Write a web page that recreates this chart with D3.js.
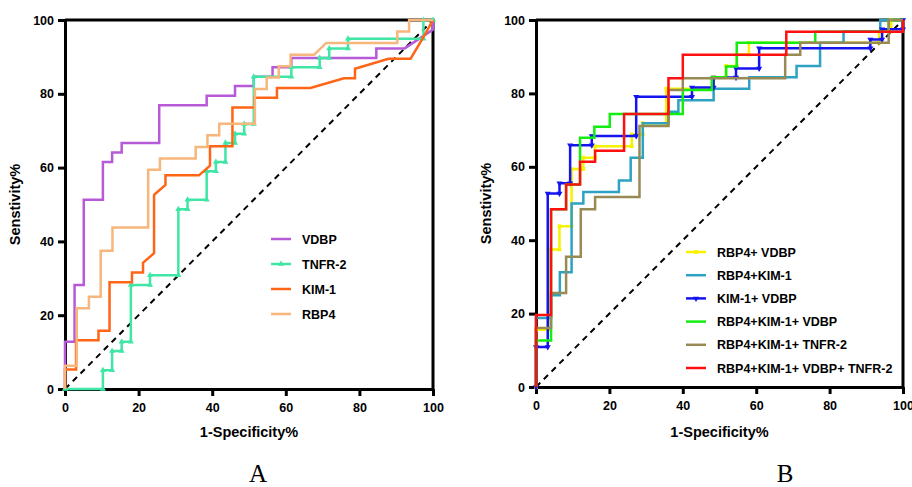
<!DOCTYPE html>
<html>
<head>
<meta charset="utf-8">
<script src="https://cdn.jsdelivr.net/npm/d3@7"></script>
<style>
  body { margin: 0; background: #fff; }
  svg { display: block; }
  text { font-family: "Liberation Sans", Arial, sans-serif; }
</style>
</head>
<body>
<script>
var width = 912,
    height = 487;

var ticks = [0, 20, 40, 60, 80, 100];

// panel A: single markers, [1-specificity %, sensitivity %]
var vdbp = [[0,0],[0,12.8],[2.6,12.8],[2.6,28.2],[5.1,28.2],[5.1,51.3],[10.3,51.3],[10.3,61.5],[12.8,61.5],[12.8,64.1],[15.4,64.1],[15.4,66.7],[25.6,66.7],[25.6,76.9],[38.5,76.9],[38.5,79.5],[46.2,79.5],[46.2,82.1],[51.3,82.1],[51.3,84.6],[56.4,84.6],[56.4,87.2],[61.5,87.2],[61.5,89.7],[84.6,89.7],[84.6,92.3],[92.3,92.3],[100,97.4],[100,100]];
var tnfr2 = [[0,0],[10.3,0],[10.3,5.1],[12.8,5.1],[12.8,10.3],[15.4,10.3],[15.4,12.8],[17.9,12.8],[17.9,28.2],[23.1,28.2],[23.1,30.8],[30.8,30.8],[30.8,48.7],[33.3,48.7],[33.3,51.3],[38.5,51.3],[38.5,59],[41,59],[41,61.5],[43.6,61.5],[43.6,66.7],[46.2,66.7],[46.2,69.2],[48.7,69.2],[48.7,71.8],[51.3,71.8],[51.3,84.6],[61.5,84.6],[61.5,87.2],[69.2,87.2],[69.2,89.7],[71.8,89.7],[71.8,92.3],[76.9,92.3],[76.9,94.9],[97.4,94.9],[97.4,100],[100,100]];
var kim1 = [[0,0],[0,5.3],[3,5.3],[3,13.2],[9.1,13.2],[9.1,15.8],[12.1,15.8],[12.1,28.9],[18.2,28.9],[18.2,31.6],[21.2,31.6],[21.2,34.2],[24.2,36.8],[24.2,52.6],[27.3,55.3],[27.3,57.9],[36.4,57.9],[39.4,60.5],[39.4,65.8],[45.5,65.8],[45.5,76.3],[51.5,76.3],[51.5,78.9],[57.6,78.9],[57.6,81.6],[66.7,81.6],[75.8,84.2],[78.8,84.2],[78.8,86.8],[87.9,89.5],[93.9,89.5],[97,94.7],[100,100]];
var rbp4 = [[0,0],[0,6.3],[3.2,6.3],[3.2,21.9],[6.5,21.9],[6.5,25],[9.7,25],[9.7,37.5],[12.9,37.5],[12.9,43.8],[22.6,43.8],[22.6,59.4],[25.8,59.4],[25.8,62.5],[35.5,62.5],[35.5,65.6],[38.7,65.6],[38.7,68.8],[41.9,68.8],[41.9,71.9],[51.6,71.9],[51.6,81.3],[54.8,81.3],[54.8,84.4],[58.1,84.4],[58.1,87.5],[61.3,87.5],[61.3,90.6],[67.7,90.6],[71,93.8],[90.3,93.8],[90.3,96.9],[93.5,96.9],[93.5,100],[100,100]];

// panel B: combinations
var rbp4Vdbp = [[0,0],[0,15.6],[3.4,15.6],[3.4,37.5],[6.4,37.5],[6.4,43.8],[9.7,43.8],[9.7,59.4],[12.9,59.4],[12.9,62.5],[16.1,62.5],[16.1,65.6],[26.1,65.6],[26.1,68.8],[29.1,68.8],[29.1,71.9],[35.5,71.9],[35.5,81.3],[48.4,81.3],[48.4,84.4],[51.8,84.4],[51.8,87.5],[54.7,87.5],[54.7,90.6],[58,90.6],[58,93.8],[93.5,93.8],[93.5,96.9],[96.8,96.9],[96.8,100],[100,100]];
var rbp4Kim1 = [[0,0],[0,18.8],[4.1,18.8],[4.1,25],[6.5,25],[6.5,31.3],[9.7,31.3],[9.7,50],[12.9,50],[12.9,53.1],[22.6,53.1],[22.6,56.3],[25.8,56.3],[25.8,62.5],[29.1,62.5],[29.1,71.9],[36.1,71.9],[36.1,75],[38.8,75],[38.8,78.1],[48.4,78.1],[48.4,81.3],[58.1,81.3],[58.1,84.4],[71,84.4],[71,87.5],[77.4,87.5],[77.4,93.8],[83.8,93.8],[83.8,96.9],[93.8,96.9],[93.8,100],[100,100]];
var kim1Vdbp = [[0,0],[0,10.9],[3.2,10.9],[3.2,52.7],[6.4,52.7],[6.4,55.5],[9.3,55.5],[9.3,65.9],[15.2,65.9],[15.2,68.4],[27.3,68.4],[27.3,79.1],[42.5,79.1],[42.5,81.6],[48.4,81.6],[48.4,84.3],[54.5,84.3],[54.5,86.8],[60.8,86.8],[60.8,92.3],[91.1,92.3],[91.1,94.7],[94.3,94.7],[94.3,97.5],[100,97.5],[100,100]];
var rbp4Kim1Vdbp = [[0,0],[0,12.7],[4.1,12.7],[4.1,48.4],[8.2,48.4],[8.2,55.2],[12,55.2],[12,67.9],[15.9,67.9],[15.9,70.9],[20.1,70.9],[20.1,74.4],[40,74.4],[40,80.9],[47.9,80.9],[47.9,84.4],[51.8,84.4],[51.8,87.3],[54.7,87.3],[54.7,93.8],[76.1,93.8],[76.1,96.8],[96.1,96.8],[96.1,100],[100,100]];
var rbp4Kim1Tnfr2 = [[0,0],[0,16.1],[4.1,16.1],[4.1,25.6],[8.2,25.6],[8.2,35.5],[12.2,35.5],[12.2,48.4],[16.1,48.4],[16.1,51.8],[28.2,51.8],[28.2,71.1],[36.1,71.1],[36.1,80.9],[40,80.9],[40,84.1],[67.9,84.1],[67.9,90.5],[72,90.5],[72,93.8],[96.1,93.8],[96.1,100],[100,100]];
var allFour = [[0,0],[0,19.6],[4.1,19.6],[4.1,48.4],[8.2,48.4],[8.2,55.2],[12,55.2],[12,61.4],[16.1,61.4],[16.1,64.4],[24,64.4],[24,74.4],[36.1,74.4],[36.1,84.1],[40,84.1],[40,90.5],[68.2,90.5],[68.2,96.8],[100,96.8],[100,100]];

var seriesA = [
  {name: "VDBP",   data: vdbp,  color: "#b75ad8", marker: null},
  {name: "TNFR-2", data: tnfr2, color: "#3fe6a6", marker: "tri"},
  {name: "KIM-1",  data: kim1,  color: "#ff6516", marker: null},
  {name: "RBP4",   data: rbp4,  color: "#f6b67c", marker: null}
];
var seriesB = [
  {name: "RBP4+ VDBP",               data: rbp4Vdbp,      color: "#f6f200", marker: "sq"},
  {name: "RBP4+KIM-1",               data: rbp4Kim1,      color: "#2da2c2", marker: null},
  {name: "KIM-1+ VDBP",              data: kim1Vdbp,      color: "#1414f0", marker: "down"},
  {name: "RBP4+KIM-1+ VDBP",         data: rbp4Kim1Vdbp,  color: "#12ee12", marker: null},
  {name: "RBP4+KIM-1+ TNFR-2",       data: rbp4Kim1Tnfr2, color: "#978a55", marker: null},
  {name: "RBP4+KIM-1+ VDBP+ TNFR-2", data: allFour,       color: "#ff1010", marker: null}
];

var svg = d3.select("body").append("svg")
    .attr("width", width)
    .attr("height", height);

function marker(sel, type, color) {
  if (!type) return;
  var sym = type == "sq" ? d3.symbolSquare : d3.symbolTriangle;
  sel.append("path")
    .attr("d", d3.symbol().type(sym).size(type == "sq" ? 14 : 16))
    .attr("transform", type == "down" ? "rotate(180)" : null)
    .attr("fill", color);
}

function panel(opt) {
  var x = d3.scaleLinear().domain([0, 100]).range([opt.x0, opt.x1]);
  var y = d3.scaleLinear().domain([0, 100]).range([opt.y0, opt.y1]);
  var g = svg.append("g");

  // frame top and right
  g.append("path")
    .attr("d", "M" + x(0) + "," + y(100) + "H" + x(100) + "V" + y(0))
    .attr("fill", "none")
    .attr("stroke", "#000")
    .attr("stroke-width", 3);

  var xAxis = g.append("g")
    .attr("transform", "translate(0," + y(0) + ")")
    .call(d3.axisBottom(x).tickValues(ticks).tickSize(7).tickSizeOuter(0).tickPadding(7));
  var yAxis = g.append("g")
    .attr("transform", "translate(" + x(0) + ",0)")
    .call(d3.axisLeft(y).tickValues(ticks).tickSize(7).tickSizeOuter(0).tickPadding(4));

  [xAxis, yAxis].forEach(function(a) {
    a.select(".domain").attr("stroke-width", 3).attr("stroke", "#000");
    a.selectAll(".tick line").attr("stroke-width", 3).attr("stroke", "#000");
    a.selectAll(".tick text")
      .attr("font-family", "Liberation Sans, Arial, sans-serif")
      .attr("font-size", 12.5)
      .attr("font-weight", "bold")
      .attr("fill", "#000");
  });

  // diagonal reference
  g.append("line")
    .attr("x1", x(0)).attr("y1", y(0))
    .attr("x2", x(100)).attr("y2", y(100))
    .attr("stroke", "#000")
    .attr("stroke-width", 2)
    .attr("stroke-dasharray", "6,5");

  var line = d3.line()
    .x(function(d) { return x(d[0]); })
    .y(function(d) { return y(d[1]); });

  opt.series.forEach(function(s) {
    g.append("path")
      .datum(s.data)
      .attr("d", line)
      .attr("fill", "none")
      .attr("stroke", s.color)
      .attr("stroke-width", 2.5);
    if (s.marker) {
      g.selectAll(null)
        .data(s.data)
        .enter().append("g")
          .attr("transform", function(d) { return "translate(" + x(d[0]) + "," + y(d[1]) + ")"; })
          .each(function() { marker(d3.select(this), s.marker, s.color); });
    }
  });

  g.append("text")
    .attr("x", (opt.x0 + opt.x1) / 2)
    .attr("y", 437)
    .attr("text-anchor", "middle")
    .attr("font-size", 14.5)
    .attr("font-weight", "bold")
    .text("1-Specificity%");

  g.append("text")
    .attr("transform", "translate(" + (opt.x0 - 45) + "," + ((opt.y0 + opt.y1) / 2) + ") rotate(-90)")
    .attr("text-anchor", "middle")
    .attr("font-size", 14.5)
    .attr("font-weight", "bold")
    .text("Senstivity%");

  g.append("text")
    .attr("x", opt.letterX)
    .attr("y", 482)
    .attr("text-anchor", "middle")
    .style("font-family", "'Liberation Serif', 'Times New Roman', serif")
    .attr("font-size", 25)
    .text(opt.letter);

  // legend
  var leg = g.selectAll(".leg")
    .data(opt.series)
    .enter().append("g")
      .attr("transform", function(d, i) { return "translate(" + opt.legX + "," + (opt.legY + i * opt.legStep) + ")"; });
  leg.append("line")
    .attr("x1", 0).attr("x2", 20)
    .attr("stroke", function(d) { return d.color; })
    .attr("stroke-width", 2.5);
  leg.append("g")
    .attr("transform", "translate(10,0)")
    .each(function(d) { marker(d3.select(this), d.marker, d.color); });
  leg.append("text")
    .attr("x", opt.legText)
    .attr("dy", "0.36em")
    .attr("font-size", 12.5)
    .attr("font-weight", "bold")
    .text(function(d) { return d.name; });
}

panel({x0: 65, x1: 433, y0: 389, y1: 20, series: seriesA, letter: "A", letterX: 258,
       legX: 271, legY: 239, legStep: 25, legText: 31});
panel({x0: 536, x1: 903, y0: 387, y1: 20, series: seriesB, letter: "B", letterX: 785,
       legX: 686, legY: 252, legStep: 23.2, legText: 31});
</script>
</body>
</html>
